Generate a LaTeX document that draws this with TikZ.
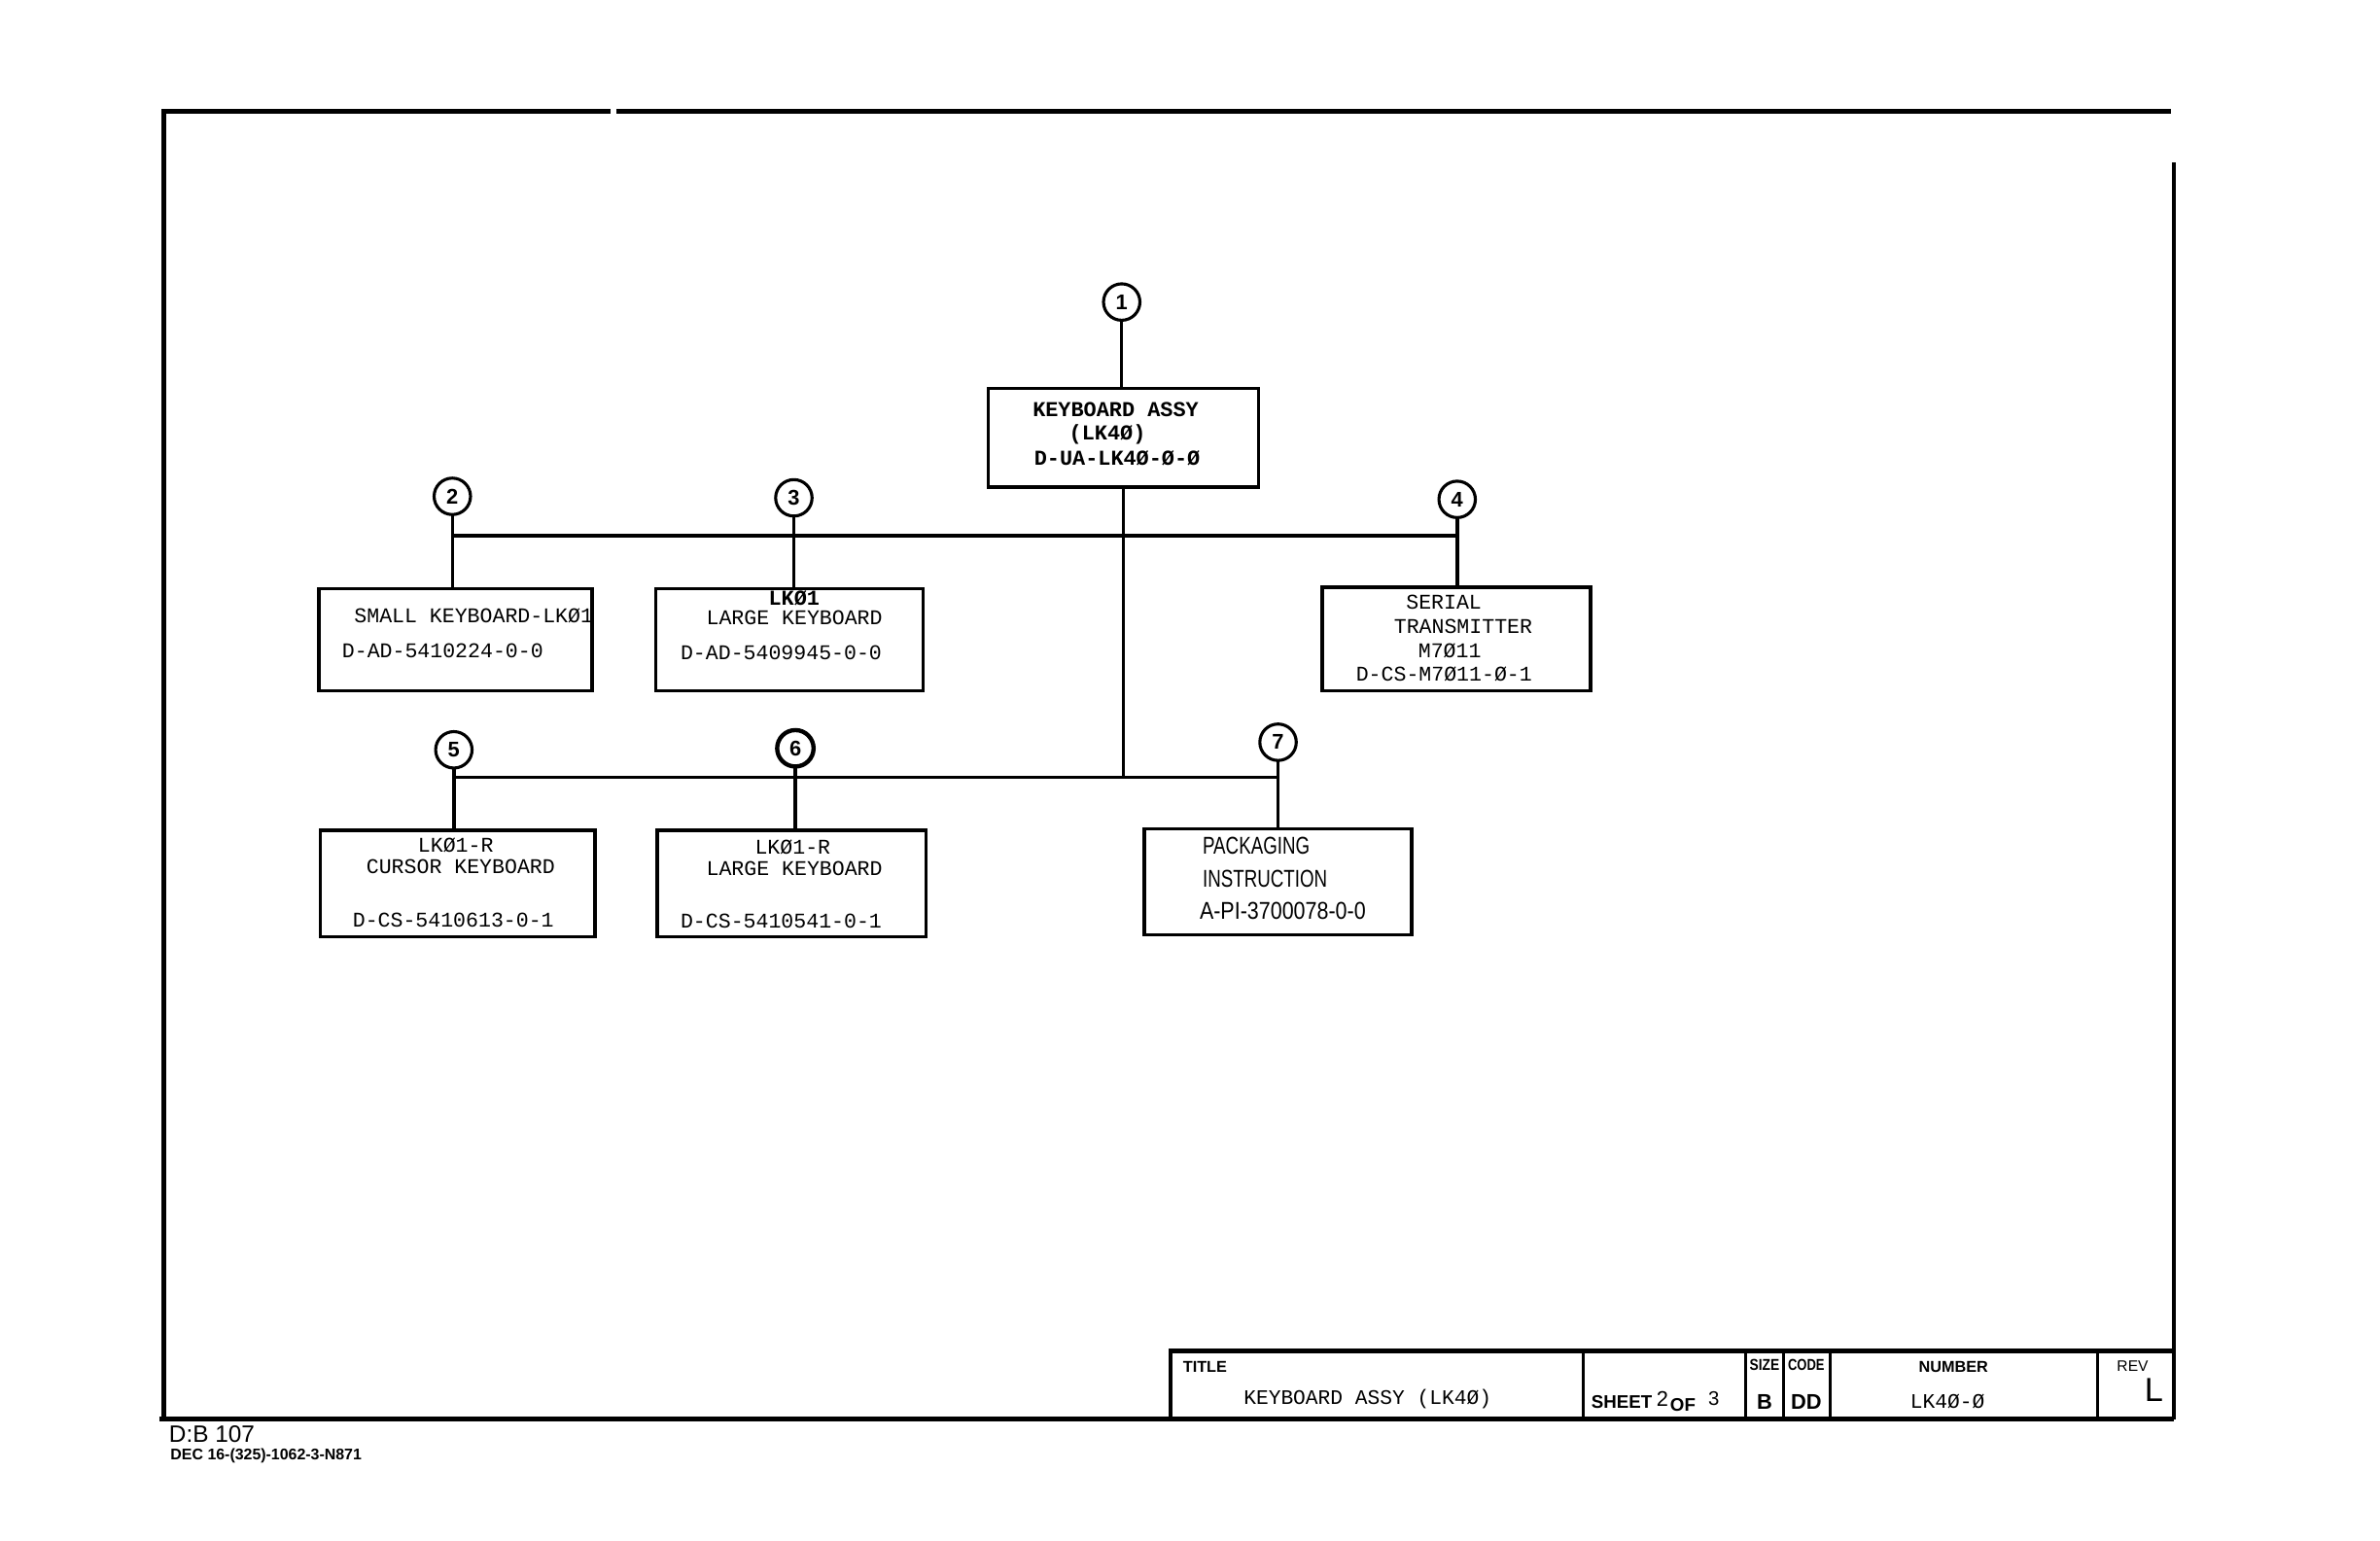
\documentclass[tikz,border=0pt]{standalone}
\usepackage{fontspec}
\setmainfont{Liberation Sans}
\newfontfamily\monof{Liberation Mono}
\newfontfamily\sansf{Liberation Sans}
\begin{document}
\begin{tikzpicture}[x=0.5pt,y=-0.5pt,
  box/.style 2 args={draw, line width=1.1pt, inner sep=0pt, outer sep=0pt, minimum width=#1*0.5pt, minimum height=#2*0.5pt},
  num/.style={draw, circle, line width=1pt, minimum size=12pt, inner sep=0pt, outer sep=0pt, font=\sansf\bfseries\fontsize{7}{7}\selectfont},
  wire/.style={line width=1.1pt},
  frame/.style={line width=1.5pt},
  txt/.style={anchor=west, inner sep=0pt, font=\monof\fontsize{6.9}{7}\selectfont},
  btxt/.style={anchor=west, inner sep=0pt, font=\monof\bfseries\fontsize{7}{7}\selectfont},
  stxt/.style={anchor=west, inner sep=0pt, font=\sansf\fontsize{8}{9}\selectfont},
  tbh/.style={inner sep=0pt, font=\sansf\bfseries\fontsize{5.2}{6}\selectfont},
  tbv/.style={inner sep=0pt, font=\monof\fontsize{6.8}{7}\selectfont}
]
\useasboundingbox (0,0) rectangle (1568,1014.6);

% sheet frame
\coordinate (tl) at (108,73.5);
\coordinate (g1) at (402,73.5);
\coordinate (g2) at (406,73.5);
\coordinate (tr) at (1430,73.5);
\coordinate (rt) at (1432,107);
\coordinate (br) at (1432,935);
\coordinate (bl) at (105,935);
\coordinate (lb) at (108,935);
\draw[frame] (lb) -- (tl) -- (g1);
\draw[frame] (g2) -- (tr);
\draw[line width=1.3pt] (rt) -- (br);
\draw[frame] (bl) -- (br);

% circles
\node[num] (c1) at (739,199) {1};
\node[num] (c2) at (298,327) {2};
\node[num] (c3) at (523,328) {3};
\node[num] (c4) at (960,329) {4};
\node[num] (c5) at (299,494) {5};
\node[num, line width=1.4pt] (c6) at (524,493) {6};
\node[num] (c7) at (842,489) {7};

% boxes
\node[box={178}{65}] (b1) at (740,288.5) {};
\node[box={180}{67}] (b2) at (300,421.5) {};
\node[box={176}{67}] (b3) at (520,421.5) {};
\node[box={177}{68}] (b4) at (959.5,421) {};
\node[box={181}{70}] (b5) at (301.5,582) {};
\node[box={177}{70}] (b6) at (521.5,582) {};
\node[box={176}{70}] (b7) at (842,581) {};

% bus junctions
\coordinate (bus1) at (740,353);
\coordinate (bus2) at (740,512);

% connectors
\draw[wire] (c1.south) -- (c1.south |- b1.north);
\draw[wire] (b1.south) -- (bus2);
\draw[wire] (c2 |- bus1) -- (c4 |- bus1);
\draw[wire] (c2.south) -- (c2.south |- b2.north);
\draw[wire] (c3.south) -- (c3.south |- b3.north);
\draw[wire] (c4.south) -- (c4.south |- b4.north);
\draw[wire] (c5 |- bus2) -- (c7 |- bus2);
\draw[wire] (c5.south) -- (c5.south |- b5.north);
\draw[wire] (c6.south) -- (c6.south |- b6.north);
\draw[wire] (c7.south) -- (c7.south |- b7.north);

% box texts
\node[btxt] (t1a) at (680,270) {KEYBOARD ASSY};
\node[btxt] (t1b) at (704,286) {(LK4Ø)};
\node[btxt] (t1c) at (681,302) {D-UA-LK4Ø-Ø-Ø};

\node[txt] (t2a) at (233,406) {SMALL KEYBOARD-LKØ1};
\node[txt] (t2b) at (225,429) {D-AD-5410224-0-0};

\node[btxt] (t3a) at (506,394) {LKØ1};
\node[txt] (t3b) at (465,407) {LARGE KEYBOARD};
\node[txt] (t3c) at (448,430) {D-AD-5409945-0-0};

\node[txt] (t4a) at (926,397) {SERIAL};
\node[txt] (t4b) at (918,413) {TRANSMITTER};
\node[txt] (t4c) at (934,429) {M7Ø11};
\node[txt] (t4d) at (893,444) {D-CS-M7Ø11-Ø-1};

\node[txt] (t5a) at (275,557) {LKØ1-R};
\node[txt] (t5b) at (241,571) {CURSOR KEYBOARD};
\node[txt] (t5c) at (232,606) {D-CS-5410613-0-1};

\node[txt] (t6a) at (497,558) {LKØ1-R};
\node[txt] (t6b) at (465,572) {LARGE KEYBOARD};
\node[txt] (t6c) at (448,607) {D-CS-5410541-0-1};

\node[stxt] (t7a) at (792,557) {\scalebox{0.75}[1]{PACKAGING}};
\node[stxt] (t7b) at (792,579) {\scalebox{0.75}[1]{INSTRUCTION}};
\node[stxt] (t7c) at (790,600) {\scalebox{0.86}[1]{A-PI-3700078-0-0}};

% title block
\coordinate (tbtl) at (771,890);
\coordinate (tbtr) at (1432,890);
\coordinate (tbbl) at (771,935);
\draw[line width=1.3pt] (tbbl) -- (tbtl) -- (tbtr);
\foreach \xx in {1043,1150,1175,1205.5,1382} {
  \draw[line width=1pt] (\xx,890) -- (\xx,935);
}
\node[tbh, anchor=west] (ttl) at (779,900.5) {TITLE};
\node[tbv, anchor=west] (ttlv) at (819,921.5) {KEYBOARD ASSY (LK4Ø)};
\node[tbh, anchor=west] (sht) at (1048,923.5) {\fontsize{6}{7}\selectfont SHEET};
\node[inner sep=0pt, anchor=west, font=\sansf\fontsize{7}{7}\selectfont] (sht2) at (1091,921.5) {2};
\node[tbh, anchor=west] (shtof) at (1100,925.5) {\fontsize{6}{7}\selectfont OF};
\node[inner sep=0pt, anchor=west, font=\sansf\fontsize{6.5}{7}\selectfont] (sht3) at (1125,921.5) {3};
\node[tbh] (size) at (1162.5,899.5) {\scalebox{0.85}[1]{SIZE}};
\node[tbh] (code) at (1190,899.5) {\scalebox{0.8}[1]{CODE}};
\node[tbh] (sizev) at (1162.5,923.5) {\fontsize{7}{7}\selectfont B};
\node[tbh] (codev) at (1190,923.5) {\fontsize{7}{7}\selectfont DD};
\node[tbh] (numh) at (1287,900.5) {NUMBER};
\node[tbv] (numv) at (1283,923.5) {LK4Ø-Ø};
\node[inner sep=0pt, font=\sansf\fontsize{5}{6}\selectfont] (rev) at (1405,900) {REV};
\node[inner sep=0pt, font=\sansf\fontsize{11}{11}\selectfont] (revv) at (1419,916) {L};

% sheet footer
\node[anchor=west, inner sep=0pt, font=\sansf\fontsize{7.8}{8}\selectfont] (dwg) at (111,945) {D:B 107};
\node[anchor=west, inner sep=0pt, font=\sansf\bfseries\fontsize{5.1}{6}\selectfont] (dec) at (112,959) {DEC 16-(325)-1062-3-N871};
\end{tikzpicture}
\end{document}
